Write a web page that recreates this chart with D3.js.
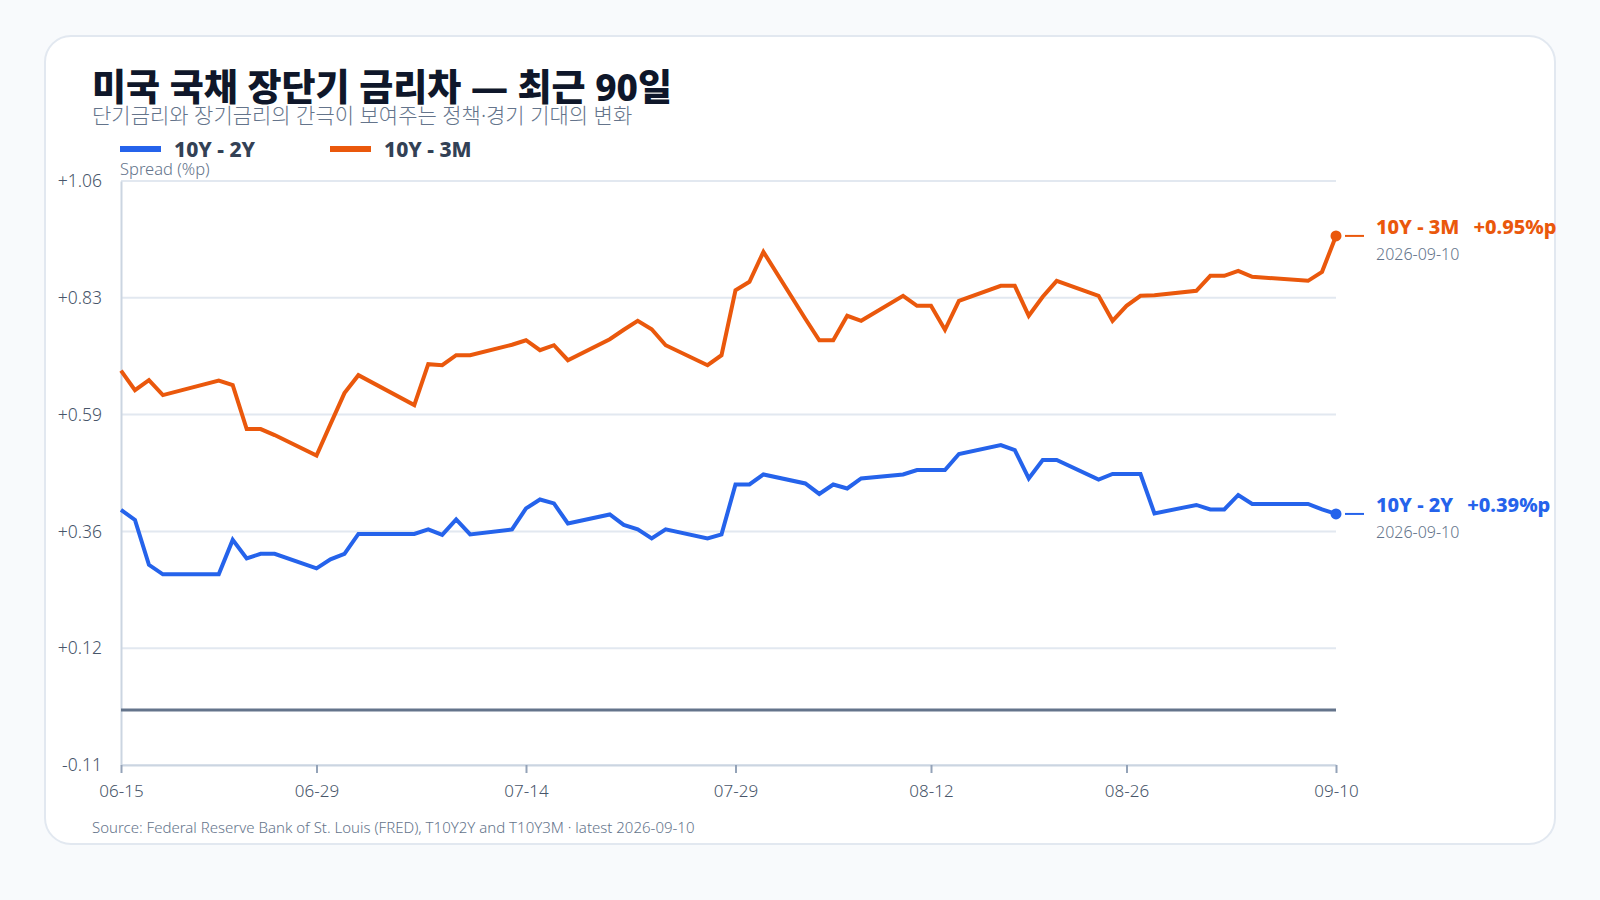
<!DOCTYPE html>
<html lang="ko">
<head>
<meta charset="utf-8">
<script src="https://cdn.jsdelivr.net/npm/d3@7/dist/d3.min.js"></script>
<style>
  html, body { margin: 0; padding: 0; background: #f8fafc; }
  body { width: 1600px; height: 900px; overflow: hidden; font-family: "Noto Sans", "Noto Sans CJK KR", sans-serif; }
  svg text { font-family: "Noto Sans", "Noto Sans CJK KR", sans-serif; }
</style>
</head>
<body>
<div id="chart"></div>
<script>
// FRED business days, 2026-06-15 .. 2026-09-10
const dates = [
  "2026-06-15","2026-06-16","2026-06-17","2026-06-18","2026-06-22","2026-06-23","2026-06-24","2026-06-25","2026-06-26","2026-06-29","2026-06-30",
  "2026-07-01","2026-07-02","2026-07-06","2026-07-07","2026-07-08","2026-07-09","2026-07-10","2026-07-13","2026-07-14","2026-07-15","2026-07-16","2026-07-17",
  "2026-07-20","2026-07-21","2026-07-22","2026-07-23","2026-07-24","2026-07-27","2026-07-28","2026-07-29","2026-07-30","2026-07-31",
  "2026-08-03","2026-08-04","2026-08-05","2026-08-06","2026-08-07","2026-08-10","2026-08-11","2026-08-12","2026-08-13","2026-08-14",
  "2026-08-17","2026-08-18","2026-08-19","2026-08-20","2026-08-21","2026-08-24","2026-08-25","2026-08-26","2026-08-27","2026-08-28","2026-08-31",
  "2026-09-01","2026-09-02","2026-09-03","2026-09-04","2026-09-08","2026-09-09","2026-09-10"
]

// 10Y - 2Y spread (%p)
const spread2y = [
  0.401,0.381,0.291,0.272,0.272,0.341,0.304,0.313,0.313,0.284,0.302,
  0.313,0.353,0.353,0.362,0.351,0.382,0.352,0.362,0.404,0.422,0.414,0.374,
  0.392,0.371,0.362,0.344,0.362,0.344,0.352,0.452,0.452,0.472,
  0.454,0.433,0.452,0.444,0.464,0.472,0.481,0.481,0.481,0.513,
  0.531,0.521,0.464,0.501,0.501,0.462,0.473,0.473,0.473,0.394,0.411,
  0.402,0.402,0.431,0.413,0.413,0.402,0.393
]

// 10Y - 3M spread (%p)
const spread3m = [
  0.680,0.641,0.661,0.631,0.660,0.651,0.563,0.563,0.551,0.510,0.573,
  0.635,0.671,0.611,0.693,0.691,0.711,0.711,0.732,0.741,0.721,0.731,0.701,
  0.743,0.762,0.780,0.763,0.731,0.691,0.711,0.841,0.858,0.918,
  0.784,0.741,0.741,0.790,0.780,0.830,0.810,0.810,0.762,0.820,
  0.850,0.850,0.790,0.828,0.860,0.830,0.780,0.810,0.830,0.831,0.840,
  0.870,0.870,0.880,0.868,0.860,0.878,0.950
]

const seriesNames = ["10Y - 2Y", "10Y - 3M"]
const seriesColors = ["#2563eb", "#ea580c"]
const xTickDates = ["2026-06-15","2026-06-29","2026-07-14","2026-07-29","2026-08-12","2026-08-26","2026-09-10"]
const yDomain = [-0.11, 1.06]

const width = 1600, height = 900
const plot = { left: 121, right: 1336, top: 181, bottom: 765 }

const parse = d3.timeParse("%Y-%m-%d")
const series = [spread2y, spread3m].map((vals, k) => ({
  name: seriesNames[k],
  color: seriesColors[k],
  points: vals.map((v, i) => ({ date: parse(dates[i]), value: v }))
}))

const x = d3.scaleTime()
  .domain([parse(dates[0]), parse(dates[dates.length - 1])])
  .range([plot.left, plot.right])

const y = d3.scaleLinear()
  .domain(yDomain)
  .range([plot.bottom, plot.top])

const yTicks = d3.range(6).map(i => yDomain[0] + i * (yDomain[1] - yDomain[0]) / 5)
const fmtY = d => (d >= 0 ? "+" : "") + d.toFixed(2)

const svg = d3.select("#chart").append("svg")
  .attr("width", width)
  .attr("height", height)

// card
svg.append("rect")
  .attr("x", 45).attr("y", 36)
  .attr("width", 1510).attr("height", 808)
  .attr("rx", 26)
  .attr("fill", "#ffffff")
  .attr("stroke", "#e2e8f0")
  .attr("stroke-width", 2)

// title + subtitle
svg.append("text")
  .attr("x", 92).attr("y", 101)
  .attr("font-size", 37).attr("font-weight", 800)
  .attr("fill", "#0f172a")
  .text("미국 국채 장단기 금리차 — 최근 90일")

svg.append("text")
  .attr("x", 92).attr("y", 123)
  .attr("font-size", 21).attr("font-weight", 300)
  .attr("fill", "#64748b")
  .text("단기금리와 장기금리의 간극이 보여주는 정책·경기 기대의 변화")

// legend
const legendX = [120, 330]
series.forEach((s, k) => {
  const g = svg.append("g").attr("transform", `translate(${legendX[k]},149)`)
  g.append("line")
    .attr("x1", 0).attr("x2", 41)
    .attr("stroke", s.color).attr("stroke-width", 6)
  g.append("text")
    .attr("x", 54).attr("y", 7.5)
    .attr("font-size", 21).attr("font-weight", 800)
    .attr("fill", "#334155")
    .text(s.name)
})

svg.append("text")
  .attr("x", 120).attr("y", 175)
  .attr("font-size", 16.5).attr("font-weight", 300)
  .attr("fill", "#64748b")
  .text("Spread (%p)")

// grid
svg.append("g")
  .selectAll("line")
  .data(yTicks)
  .join("line")
  .attr("x1", plot.left).attr("x2", plot.right)
  .attr("y1", d => y(d)).attr("y2", d => y(d))
  .attr("stroke", "#e2e8f0")
  .attr("stroke-width", 2)

// y axis
const yAxis = svg.append("g")
  .attr("transform", `translate(${plot.left},0)`)
  .call(d3.axisLeft(y).tickValues(yTicks).tickFormat(fmtY).tickSize(0).tickPadding(19))
yAxis.select(".domain").attr("stroke", "#cbd5e1").attr("stroke-width", 2)
yAxis.selectAll("text")
  .attr("font-size", 17.5).attr("font-weight", 300)
  .attr("fill", "#475569")

// x axis
const xAxis = svg.append("g")
  .attr("transform", `translate(0,${plot.bottom})`)
  .call(d3.axisBottom(x)
    .tickValues(xTickDates.map(parse))
    .tickFormat(d3.timeFormat("%m-%d"))
    .tickSize(8).tickSizeOuter(0).tickPadding(12))
xAxis.select(".domain").attr("stroke", "#cbd5e1").attr("stroke-width", 2)
xAxis.selectAll(".tick line").attr("stroke", "#94a3b8").attr("stroke-width", 2)
xAxis.selectAll("text")
  .attr("font-size", 17).attr("font-weight", 300)
  .attr("fill", "#475569")

// zero line
svg.append("line")
  .attr("x1", plot.left).attr("x2", plot.right)
  .attr("y1", y(0)).attr("y2", y(0))
  .attr("stroke", "#64748b")
  .attr("stroke-width", 3)

// series lines
const line = d3.line()
  .x(d => x(d.date))
  .y(d => y(d.value))

svg.append("g")
  .selectAll("path")
  .data(series)
  .join("path")
  .attr("d", s => line(s.points))
  .attr("fill", "none")
  .attr("stroke", s => s.color)
  .attr("stroke-width", 4)
  .attr("stroke-linejoin", "miter")

// end labels
series.forEach(s => {
  const last = s.points[s.points.length - 1]
  const cx = x(last.date), cy = y(last.value)
  svg.append("circle")
    .attr("cx", cx).attr("cy", cy).attr("r", 5.5)
    .attr("fill", s.color)
  svg.append("line")
    .attr("x1", cx + 9).attr("x2", cx + 28)
    .attr("y1", cy).attr("y2", cy)
    .attr("stroke", s.color).attr("stroke-width", 2)
  const t = svg.append("text")
    .attr("x", cx + 40).attr("y", cy - 2)
    .attr("font-size", 20).attr("font-weight", 800)
    .attr("fill", s.color)
  t.append("tspan").text(s.name)
  t.append("tspan").attr("dx", 14).text(fmtY(last.value) + "%p")
  svg.append("text")
    .attr("x", cx + 40).attr("y", cy + 24)
    .attr("font-size", 16).attr("font-weight", 300)
    .attr("fill", "#64748b")
    .text(d3.timeFormat("%Y-%m-%d")(last.date))
})

// source
svg.append("text")
  .attr("x", 92).attr("y", 833)
  .attr("font-size", 15).attr("font-weight", 300)
  .attr("fill", "#64748b")
  .text("Source: Federal Reserve Bank of St. Louis (FRED), T10Y2Y and T10Y3M · latest " + dates[dates.length - 1])
</script>
</body>
</html>
